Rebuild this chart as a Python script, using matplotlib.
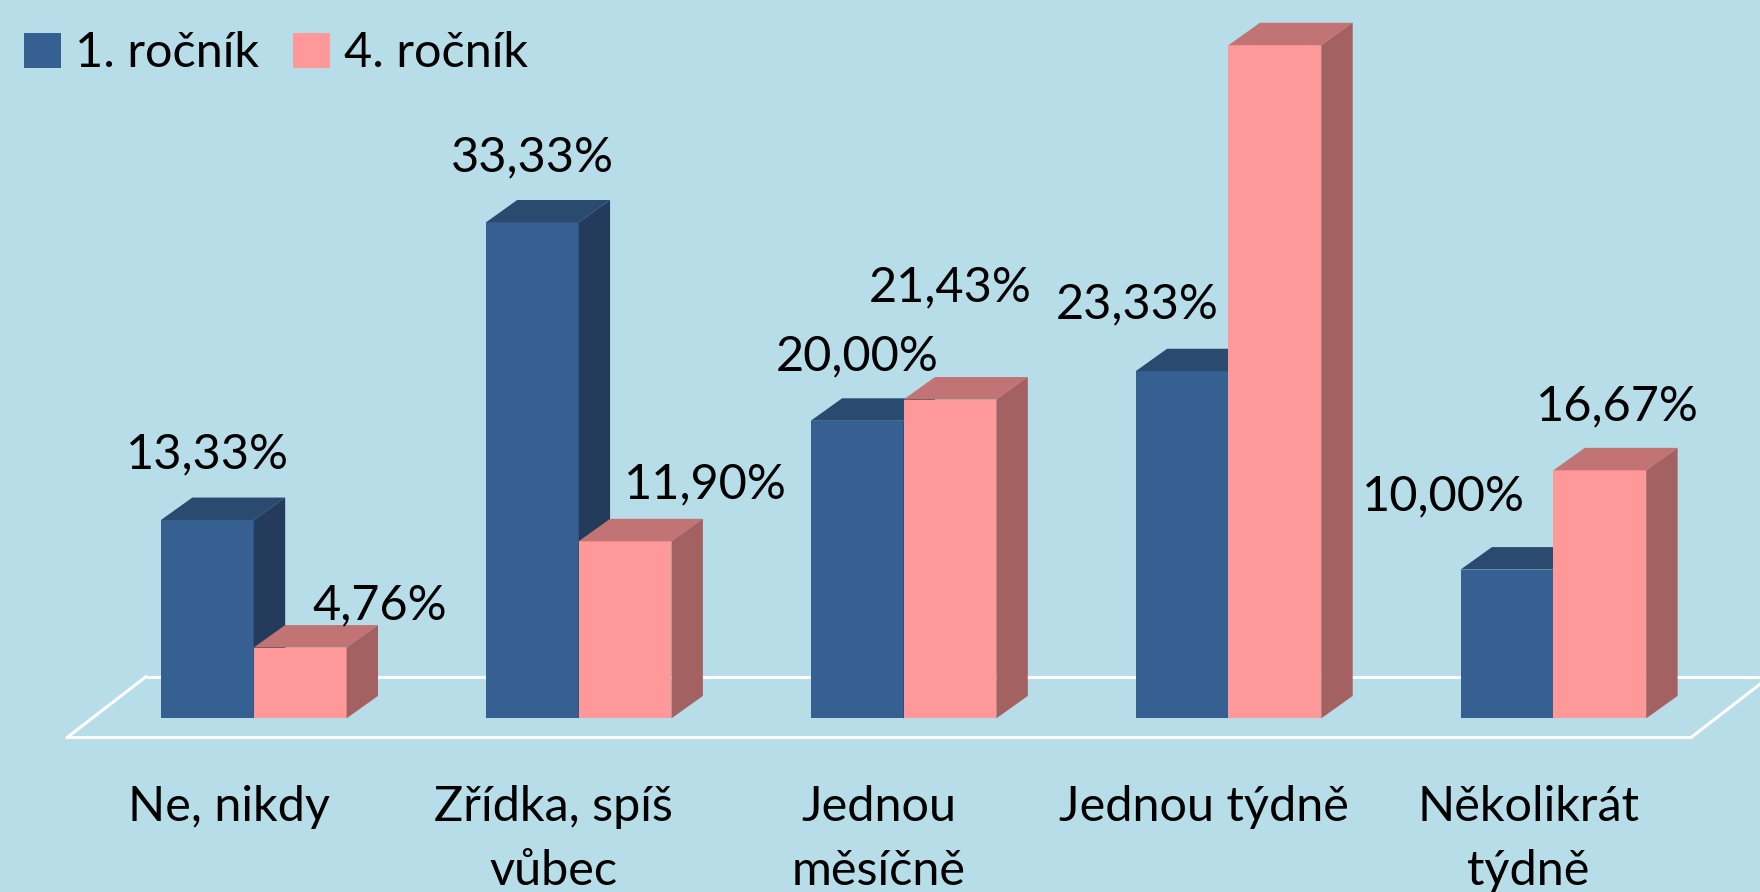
import numpy as np
import matplotlib
matplotlib.use('Agg')
import matplotlib.pyplot as plt
from matplotlib.patches import Polygon, Patch

# data
categories = ['Ne, nikdy', 'Zřídka, spíš\nvůbec', 'Jednou\nměsíčně', 'Jednou týdně', 'Několikrát\ntýdně']
series_names = ['1. ročník', '4. ročník']
rocnik1 = [13.33, 33.33, 20.00, 23.33, 10.00]
rocnik4 = [4.76, 11.90, 21.43, 45.24, 16.67]

# label nudges in pixels (excel moved them around to avoid overlap)
lab_off1 = [(0, 66), (0, 65), (0, 64), (-45, 67), (-63, 73)]
lab_off4 = [(80, 42), (80, 57), (0, 112), (0, 90), (18, 64)]

bg = '#b7dde8'
front = ['#376092', '#ff9999']
top = ['#2a4a70', '#c27474']
side = ['#243b5c', '#a36161']

plt.rcParams['font.family'] = ['Lato', 'DejaVu Sans']
fs = 35

fig = plt.figure(figsize=(17.6, 8.92), dpi=100)
fig.patch.set_facecolor(bg)
ax = fig.add_axes([0, 0, 1, 1])
ax.set_facecolor(bg)
ax.axis('off')
ax.set_xlim(-0.781, 4.636)
ax.set_ylim(-11.67, 48.28)

w = 0.2857      # bar width in category units
dx, dy = 0.0967, 1.51   # 3d depth offset

x = np.arange(len(categories))

# floor plane
fdx, fdy = 0.242, 4.08
fy = -1.28
fl, fr = -0.574, 4.424
ax.plot([fl + fdx, fr + fdx], [fy + fdy, fy + fdy], color='white', lw=2.2, zorder=1)
ax.plot([fl, fl + fdx], [fy, fy + fdy], color='white', lw=2.2, zorder=1)
ax.plot([fr, fr + fdx], [fy, fy + fdy], color='white', lw=2.2, zorder=1)
ax.plot([fl, fr], [fy, fy], color='white', lw=2.2, zorder=10)

z = 2
for i in x:
    for s, vals in enumerate([rocnik1, rocnik4]):
        h = vals[i]
        x0 = i - w if s == 0 else i
        x1 = x0 + w
        ax.bar(x0, h, w, align='edge', color=front[s], lw=0, zorder=z)
        ax.add_patch(Polygon([(x0, h), (x0 + dx, h + dy), (x1 + dx, h + dy), (x1, h)],
                             closed=True, fc=top[s], ec='none', zorder=z))
        ax.add_patch(Polygon([(x1, 0), (x1, h), (x1 + dx, h + dy), (x1 + dx, dy)],
                             closed=True, fc=side[s], ec='none', zorder=z))
        z += 1
        offs = lab_off1 if s == 0 else lab_off4
        ax.annotate(f'{h:.2f}%'.replace('.', ','), (x0 + w / 2, h),
                    xytext=offs[i], textcoords='offset pixels',
                    ha='center', va='center', fontsize=fs, color='black', zorder=20)

for i, c in enumerate(categories):
    ax.annotate(c, (i, 0), xytext=(-25, -67), textcoords='offset pixels',
                ha='center', va='top', fontsize=fs, color='black', linespacing=1.55)

handles = [Patch(fc=front[0], ec='none'), Patch(fc=front[1], ec='none')]
ax.legend(handles, series_names, loc='upper left', bbox_to_anchor=(0.004, 0.984),
          ncol=2, frameon=False, fontsize=fs, handlelength=0.75, handleheight=0.75,
          handletextpad=0.3, columnspacing=0.7, borderaxespad=0.1, borderpad=0.25)

fig.savefig('out.png', dpi=100, facecolor=bg)
